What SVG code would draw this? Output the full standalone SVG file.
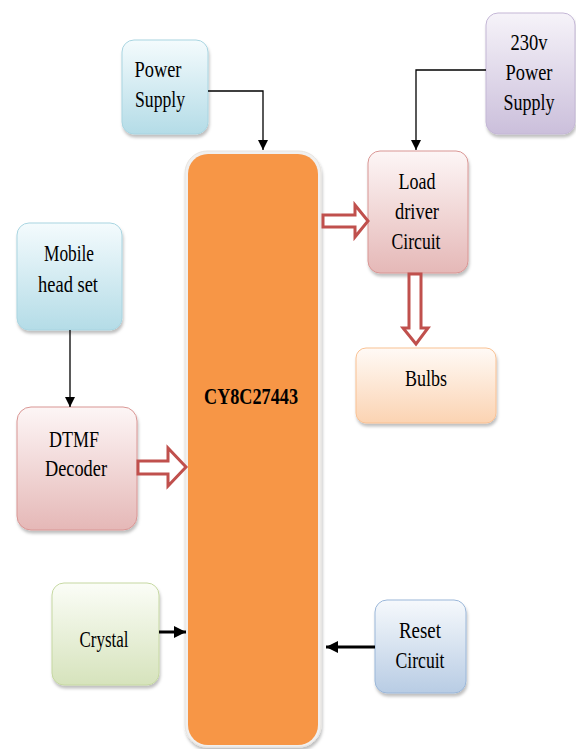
<svg xmlns="http://www.w3.org/2000/svg" width="576" height="749" viewBox="0 0 576 749">
<defs>
<linearGradient id="gBlue" x1="0" y1="0" x2="0" y2="1"><stop offset="0" stop-color="#f4fbfd"/><stop offset="1" stop-color="#b4dce7"/></linearGradient>
<linearGradient id="gPurple" x1="0" y1="0" x2="0" y2="1"><stop offset="0" stop-color="#f6f3f9"/><stop offset="1" stop-color="#cbbfdb"/></linearGradient>
<linearGradient id="gRed" x1="0" y1="0" x2="0" y2="1"><stop offset="0" stop-color="#fdf6f6"/><stop offset="1" stop-color="#e5b8b7"/></linearGradient>
<linearGradient id="gPeach" x1="0" y1="0" x2="0" y2="1"><stop offset="0" stop-color="#fffaf6"/><stop offset="1" stop-color="#fbd3b2"/></linearGradient>
<linearGradient id="gGreen" x1="0" y1="0" x2="0" y2="1"><stop offset="0" stop-color="#fbfdf7"/><stop offset="1" stop-color="#d6e3bc"/></linearGradient>
<linearGradient id="gSteel" x1="0" y1="0" x2="0" y2="1"><stop offset="0" stop-color="#f6f9fc"/><stop offset="1" stop-color="#b8cce4"/></linearGradient>
<filter id="sh" x="-10%" y="-10%" width="125%" height="125%"><feDropShadow dx="1" dy="3" stdDeviation="1.5" flood-color="#000" flood-opacity="0.25"/></filter>
<marker id="ah" viewBox="0 0 10 10" refX="10" refY="5" markerWidth="10" markerHeight="10" markerUnits="userSpaceOnUse" orient="auto"><path d="M0,0 L10,5 L0,10 z" fill="#000"/></marker>
<marker id="ahb" viewBox="0 0 10 10" refX="10" refY="5" markerWidth="4" markerHeight="4" orient="auto"><path d="M0,0 L10,5 L0,10 z" fill="#000"/></marker>
</defs>
<style>
.t{font-family:"Liberation Serif","Times New Roman",serif;font-size:24px;fill:#000;text-anchor:middle}
.b{font-weight:bold;font-size:23px}
.line{fill:none;stroke:#000;stroke-width:1.3}
.thick{fill:none;stroke:#000;stroke-width:3}
.blk{fill:#fff;stroke:#c0504d;stroke-width:3;stroke-linejoin:miter}
</style>
<rect width="576" height="749" fill="#fff"/>

<g id="mcu">
<rect x="185" y="151" width="136" height="596" rx="22" fill="#f0f0f0" stroke="#e8e4df" stroke-width="1" filter="url(#sh)"/>
<rect x="188" y="154" width="130" height="591" rx="20" fill="#f79646"/>
<text class="t b" x="251" y="404" textLength="94" lengthAdjust="spacingAndGlyphs">CY8C27443</text>
</g>

<g id="power-supply">
<rect x="122" y="40" width="86" height="94" rx="12" fill="url(#gBlue)" stroke="#a9d5e1" stroke-width="1" filter="url(#sh)"/>
<text class="t" x="158" y="77" textLength="47" lengthAdjust="spacingAndGlyphs">Power</text>
<text class="t" x="160" y="107" textLength="50" lengthAdjust="spacingAndGlyphs">Supply</text>
</g>

<g id="power-230v">
<rect x="486" y="13" width="89" height="121" rx="12" fill="url(#gPurple)" stroke="#c4b7d6" stroke-width="1" filter="url(#sh)"/>
<text class="t" x="529" y="50" textLength="37" lengthAdjust="spacingAndGlyphs">230v</text>
<text class="t" x="529" y="80" textLength="47" lengthAdjust="spacingAndGlyphs">Power</text>
<text class="t" x="529" y="110" textLength="51" lengthAdjust="spacingAndGlyphs">Supply</text>
</g>

<g id="load-driver">
<rect x="368" y="151" width="100" height="122" rx="12" fill="url(#gRed)" stroke="#d99694" stroke-width="1" filter="url(#sh)"/>
<text class="t" x="417" y="189" textLength="37" lengthAdjust="spacingAndGlyphs">Load</text>
<text class="t" x="417" y="219" textLength="44" lengthAdjust="spacingAndGlyphs">driver</text>
<text class="t" x="416" y="249" textLength="49" lengthAdjust="spacingAndGlyphs">Circuit</text>
</g>

<g id="bulbs">
<rect x="356" y="348" width="140" height="75" rx="10" fill="url(#gPeach)" stroke="#f9c193" stroke-width="1" filter="url(#sh)"/>
<text class="t" x="426" y="386" textLength="42" lengthAdjust="spacingAndGlyphs">Bulbs</text>
</g>

<g id="mobile">
<rect x="17" y="223" width="105" height="107" rx="12" fill="url(#gBlue)" stroke="#a9d5e1" stroke-width="1" filter="url(#sh)"/>
<text class="t" x="69" y="261" textLength="50" lengthAdjust="spacingAndGlyphs">Mobile</text>
<text class="t" x="68" y="292" textLength="60" lengthAdjust="spacingAndGlyphs">head set</text>
</g>

<g id="dtmf">
<rect x="17" y="407" width="120" height="123" rx="14" fill="url(#gRed)" stroke="#d99694" stroke-width="1" filter="url(#sh)"/>
<text class="t" x="74" y="447" textLength="50" lengthAdjust="spacingAndGlyphs">DTMF</text>
<text class="t" x="76" y="476" textLength="62" lengthAdjust="spacingAndGlyphs">Decoder</text>
</g>

<g id="crystal">
<rect x="52" y="583" width="107" height="102" rx="12" fill="url(#gGreen)" stroke="#c6d8a2" stroke-width="1" filter="url(#sh)"/>
<text class="t" x="104" y="647" textLength="49" lengthAdjust="spacingAndGlyphs">Crystal</text>
</g>

<g id="reset">
<rect x="375" y="600" width="91" height="93" rx="12" fill="url(#gSteel)" stroke="#9bb7d9" stroke-width="1" filter="url(#sh)"/>
<text class="t" x="420" y="638" textLength="42" lengthAdjust="spacingAndGlyphs">Reset</text>
<text class="t" x="420" y="668" textLength="49" lengthAdjust="spacingAndGlyphs">Circuit</text>
</g>

<g id="connectors">
<path class="line" d="M208,91 H263 V150" marker-end="url(#ah)"/>
<path class="line" d="M486,70 H416 V150" marker-end="url(#ah)"/>
<path class="line" d="M70,330 V407" marker-end="url(#ah)"/>
<path class="thick" d="M159,632 H186" marker-end="url(#ahb)"/>
<path class="thick" d="M375,647 H326" marker-end="url(#ahb)"/>
<path class="blk" d="M323,215 H355 V205 L368,221 L355,237 V227 H323 Z"/>
<path class="blk" d="M409,274 V328 H403 L416,344 L428,328 H421 V274 Z"/>
<path class="blk" d="M138,461 H168 V448 L186,467 L168,486 V474 H138 Z"/>
</g>
</svg>
